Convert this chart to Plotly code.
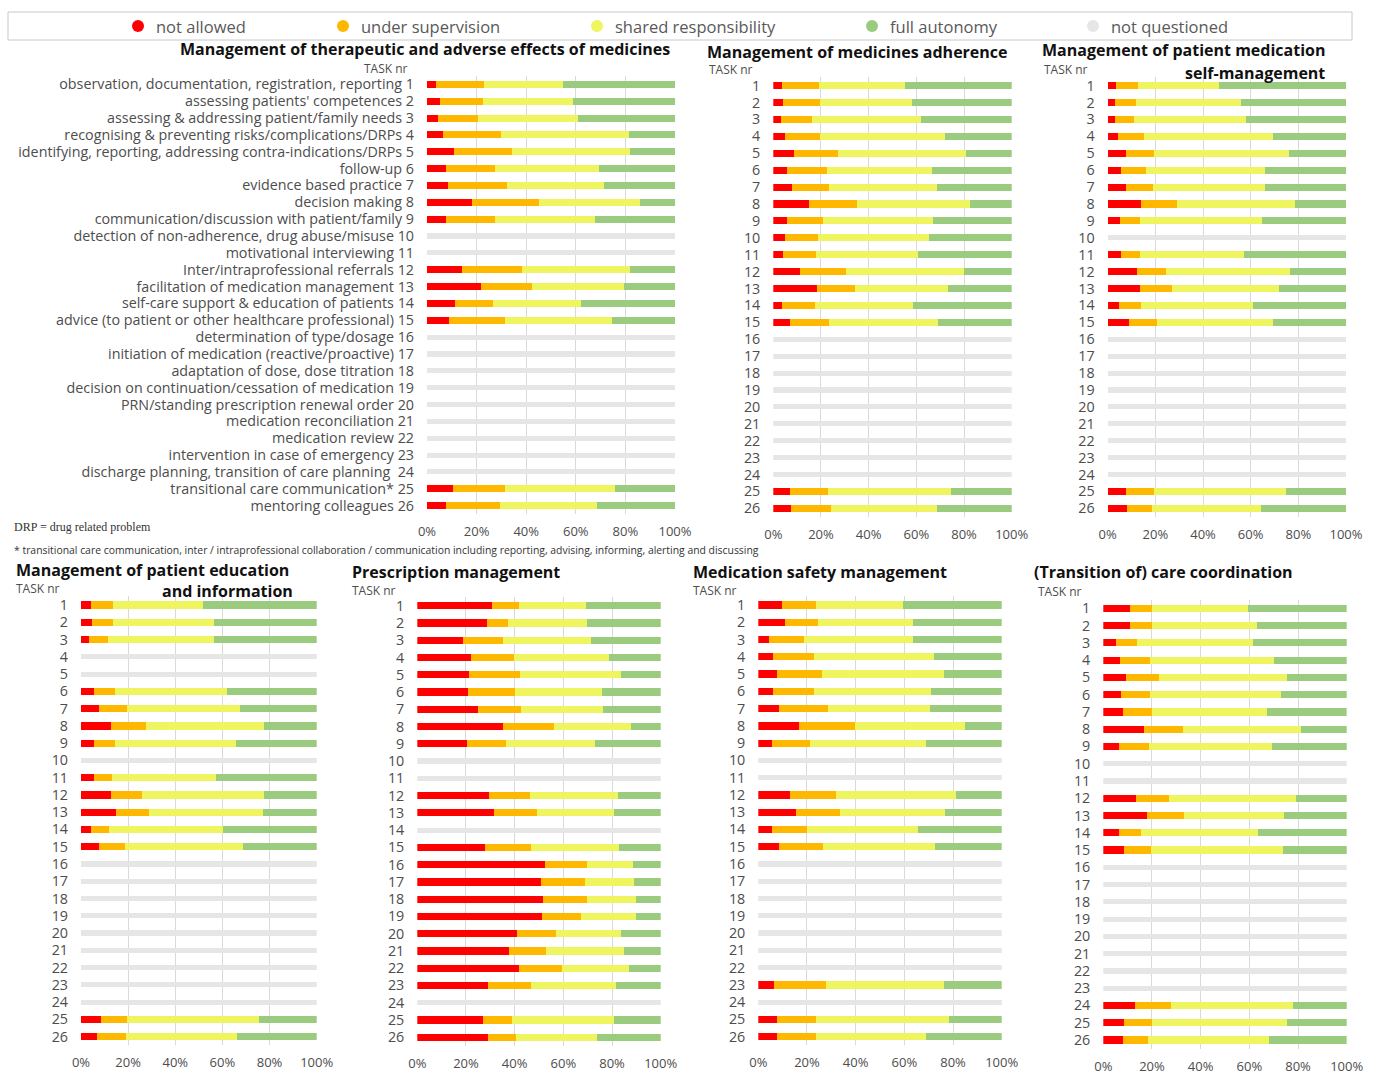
import plotly.graph_objects as go

W, H = 1378, 1074
N = None

# ---------------- data (percent of respondents) ----------------
task_nr = list(range(1, 27))
task_names = [
    "observation, documentation, registration, reporting",
    "assessing patients' competences",
    "assessing & addressing patient/family needs",
    "recognising & preventing risks/complications/DRPs",
    "identifying, reporting, addressing contra-indications/DRPs",
    "follow-up",
    "evidence based practice",
    "decision making",
    "communication/discussion with patient/family",
    "detection of non-adherence, drug abuse/misuse",
    "motivational interviewing",
    "Inter/intraprofessional referrals",
    "facilitation of medication management",
    "self-care support & education of patients",
    "advice (to patient or other healthcare professional)",
    "determination of type/dosage",
    "initiation of medication (reactive/proactive)",
    "adaptation of dose, dose titration",
    "decision on continuation/cessation of medication",
    "PRN/standing prescription renewal order",
    "medication reconciliation",
    "medication review",
    "intervention in case of emergency",
    "discharge planning, transition of care planning ",
    "transitional care communication*",
    "mentoring colleagues",
]
x_ticks = [0, 20, 40, 60, 80, 100]
x_tick_labels = ["0%", "20%", "40%", "60%", "80%", "100%"]
categories = ["not allowed", "under supervision", "shared responsibility", "full autonomy", "not questioned"]

# 1. Management of therapeutic and adverse effects of medicines
therapeutic_not_allowed = [3.6, 5.4, 4.5, 6.3, 10.8, 7.6, 8.6, 18.0, 7.7, N, N, 14.0, 21.6, 11.2, 9.0, N, N, N, N, N, N, N, N, N, 10.3, 7.7]
therapeutic_supervision = [19.3, 17.1, 16.2, 23.4, 23.4, 19.8, 23.8, 27.0, 19.7, N, N, 24.2, 20.7, 15.5, 22.5, N, N, N, N, N, N, N, N, N, 21.2, 21.7]
therapeutic_shared = [32.1, 36.5, 40.3, 51.9, 47.8, 42.0, 38.8, 41.0, 40.2, N, N, 43.8, 37.0, 35.5, 42.9, N, N, N, N, N, N, N, N, N, 44.2, 39.1]
therapeutic_autonomy = [45.0, 41.0, 39.0, 18.4, 18.0, 30.6, 28.8, 14.0, 32.4, N, N, 18.0, 20.7, 37.8, 25.6, N, N, N, N, N, N, N, N, N, 24.3, 31.5]

# 2. Management of medicines adherence
adherence_not_allowed = [3.8, 4.2, 3.1, 4.8, 8.7, 5.6, 7.7, 15.0, 5.6, 4.8, 4.2, 11.2, 18.5, 3.8, 7.0, N, N, N, N, N, N, N, N, N, 7.0, 7.4]
adherence_supervision = [15.5, 15.4, 13.0, 14.8, 18.3, 16.8, 15.8, 20.0, 15.4, 14.1, 13.7, 19.1, 15.8, 13.7, 16.5, N, N, N, N, N, N, N, N, N, 15.8, 16.6]
adherence_shared = [35.9, 38.7, 45.7, 52.4, 54.0, 44.3, 45.3, 47.5, 46.1, 46.6, 42.7, 49.7, 39.1, 41.2, 45.7, N, N, N, N, N, N, N, N, N, 51.6, 44.8]
adherence_autonomy = [44.8, 41.7, 38.2, 28.0, 19.0, 33.3, 31.2, 17.5, 32.9, 34.5, 39.4, 20.0, 26.6, 41.3, 30.8, N, N, N, N, N, N, N, N, N, 25.6, 31.2]

# 3. Management of patient medication self-management
selfmgmt_not_allowed = [3.5, 3.1, 3.1, 4.2, 7.6, 5.6, 7.6, 14.0, 5.2, N, 5.6, 12.2, 13.6, 4.8, 9.1, N, N, N, N, N, N, N, N, N, 7.6, 8.0]
selfmgmt_supervision = [9.1, 8.6, 7.9, 11.0, 12.0, 10.6, 11.6, 15.0, 8.4, N, 8.0, 12.3, 13.3, 9.0, 11.5, N, N, N, N, N, N, N, N, N, 11.8, 10.5]
selfmgmt_shared = [34.1, 44.1, 47.0, 54.3, 56.5, 49.8, 46.8, 49.6, 51.0, N, 43.7, 52.0, 45.1, 47.0, 48.9, N, N, N, N, N, N, N, N, N, 55.3, 45.7]
selfmgmt_autonomy = [53.3, 44.2, 42.0, 30.5, 23.9, 34.0, 34.0, 21.4, 35.4, N, 42.7, 23.5, 28.0, 39.2, 30.5, N, N, N, N, N, N, N, N, N, 25.3, 35.8]

# 4. Management of patient education and information
education_not_allowed = [4.2, 4.8, 3.5, N, N, 5.7, 7.6, 12.6, 5.7, N, 5.7, 12.7, 14.9, 4.2, 7.8, N, N, N, N, N, N, N, N, N, 8.5, 6.9]
education_supervision = [9.5, 8.9, 7.8, N, N, 8.9, 11.9, 14.8, 8.6, N, 7.6, 13.3, 14.0, 7.7, 10.9, N, N, N, N, N, N, N, N, N, 10.9, 12.2]
education_shared = [38.2, 42.7, 45.1, N, N, 47.5, 48.0, 50.3, 51.3, N, 43.8, 51.8, 48.2, 48.2, 50.2, N, N, N, N, N, N, N, N, N, 56.1, 47.0]
education_autonomy = [48.1, 43.6, 43.6, N, N, 37.9, 32.5, 22.3, 34.4, N, 42.9, 22.2, 22.9, 39.9, 31.1, N, N, N, N, N, N, N, N, N, 24.5, 33.9]

# 5. Prescription management
prescription_not_allowed = [30.8, 28.5, 18.9, 21.9, 21.4, 20.7, 25.1, 35.3, 20.3, N, N, 29.6, 31.6, N, 27.8, 52.5, 50.8, 51.5, 51.1, 40.8, 37.7, 41.9, 28.9, N, 26.8, 28.9]
prescription_supervision = [11.1, 8.9, 16.4, 18.0, 20.8, 19.4, 17.5, 20.9, 16.0, N, N, 16.7, 17.4, N, 18.9, 17.1, 18.1, 18.4, 16.0, 16.2, 15.2, 17.7, 17.8, N, 12.0, 11.5]
prescription_shared = [27.4, 32.2, 35.9, 38.9, 41.5, 35.7, 33.6, 31.6, 36.7, N, N, 36.0, 32.0, N, 36.3, 19.2, 20.3, 20.0, 22.8, 26.7, 32.0, 27.5, 34.8, N, 42.0, 33.6]
prescription_autonomy = [30.7, 30.4, 28.8, 21.2, 16.3, 24.2, 23.8, 12.2, 27.0, N, N, 17.7, 19.0, N, 17.0, 11.2, 10.8, 10.1, 10.1, 16.3, 15.1, 12.9, 18.5, N, 19.2, 26.0]

# 6. Medication safety management
safety_not_allowed = [9.9, 11.0, 4.5, 6.2, 7.8, 6.2, 8.5, 16.7, 5.5, N, N, 13.0, 15.3, 5.5, 8.5, N, N, N, N, N, N, N, 6.4, N, 7.5, 7.5]
safety_supervision = [13.7, 13.7, 14.4, 16.7, 18.5, 16.8, 20.3, 23.0, 15.7, N, N, 18.9, 18.3, 14.4, 18.2, N, N, N, N, N, N, N, 21.4, N, 16.2, 16.2]
safety_shared = [36.0, 38.7, 44.5, 49.3, 50.1, 48.0, 41.7, 45.2, 47.7, N, N, 49.3, 43.1, 45.6, 45.9, N, N, N, N, N, N, N, 48.5, N, 54.8, 45.2]
safety_autonomy = [40.4, 36.6, 36.6, 27.8, 23.6, 29.0, 29.5, 15.1, 31.1, N, N, 18.8, 23.3, 34.5, 27.4, N, N, N, N, N, N, N, 23.7, N, 21.5, 31.1]

# 7. (Transition of) care coordination
coordination_not_allowed = [11.0, 11.0, 5.1, 6.8, 9.2, 7.3, 8.2, 16.8, 6.4, N, N, 13.4, 17.8, 6.4, 8.6, N, N, N, N, N, N, N, N, 13.0, 8.6, 8.2]
coordination_supervision = [9.0, 9.0, 8.9, 12.4, 13.8, 11.9, 11.8, 16.1, 12.4, N, N, 13.7, 15.5, 9.1, 11.0, N, N, N, N, N, N, N, N, 14.8, 11.4, 10.3]
coordination_shared = [39.6, 43.3, 47.4, 51.1, 52.3, 53.7, 47.1, 48.2, 50.4, N, N, 52.1, 40.9, 47.9, 54.1, N, N, N, N, N, N, N, N, 50.3, 55.6, 49.7]
coordination_autonomy = [40.4, 36.7, 38.6, 29.7, 24.7, 27.1, 32.9, 18.9, 30.8, N, N, 20.8, 25.8, 36.6, 26.3, N, N, N, N, N, N, N, N, 21.9, 24.4, 31.8]

# ---------------- styling / layout ----------------
colors = ["#ff0000", "#ffb800", "#eef55e", "#9bcb7f", "#e6e6e6"]
FONT = "Open Sans"
GREY_TXT = "#4d4d4d"

panels = [
    dict(data=[therapeutic_not_allowed, therapeutic_supervision, therapeutic_shared, therapeutic_autonomy],
         box=(427, 675, 75.9, 514.1), long=True),
    dict(data=[adherence_not_allowed, adherence_supervision, adherence_shared, adherence_autonomy],
         box=(773.3, 1011.7, 77.2, 516.8), long=False),
    dict(data=[selfmgmt_not_allowed, selfmgmt_supervision, selfmgmt_shared, selfmgmt_autonomy],
         box=(1107.7, 1346, 77.2, 516.8), long=False),
    dict(data=[education_not_allowed, education_supervision, education_shared, education_autonomy],
         box=(81, 316.7, 596.4, 1045.3), long=False),
    dict(data=[prescription_not_allowed, prescription_supervision, prescription_shared, prescription_autonomy],
         box=(417.3, 660.7, 597.1, 1045.9), long=False),
    dict(data=[safety_not_allowed, safety_supervision, safety_shared, safety_autonomy],
         box=(758.3, 1001.7, 596.4, 1045.3), long=False),
    dict(data=[coordination_not_allowed, coordination_supervision, coordination_shared, coordination_autonomy],
         box=(1103.3, 1346.7, 599.7, 1048.6), long=False),
]


def px_x(v):
    return v / W


def px_y(v):
    return 1 - v / H


fig = go.Figure()
layout = dict(
    width=W, height=H, margin=dict(l=0, r=0, t=0, b=0, pad=0), autosize=False,
    paper_bgcolor="white", plot_bgcolor="white",
    barmode="stack", showlegend=False,
    font=dict(family=FONT, color=GREY_TXT),
)

for i, p in enumerate(panels):
    k = "" if i == 0 else str(i + 1)
    xa, ya = "x" + k, "y" + k
    series = p["data"]
    not_q = [100 if v is None else None for v in series[0]]
    for j, vals in enumerate(series + [not_q]):
        fig.add_trace(go.Bar(
            x=vals, y=task_nr, orientation="h", xaxis=xa, yaxis=ya,
            marker=dict(color=colors[j], line=dict(width=0)),
            width=0.30 if j == 4 else 0.42,
            name=categories[j], showlegend=False, hoverinfo="x+y+name",
        ))
    x0, x1, yt, yb = p["box"]
    if p["long"]:
        ticktext = [f"{n} {t}" for n, t in zip(task_names, task_nr)]
    else:
        ticktext = [str(t) for t in task_nr]
    layout["xaxis" + k] = dict(
        domain=[px_x(x0), px_x(x1)], anchor=ya, range=[0, 100], automargin=False,
        tickvals=x_ticks, ticktext=x_tick_labels, showgrid=True, gridcolor="#d9d9d9",
        gridwidth=1, zeroline=False, showline=False, ticks="",
        tickfont=dict(size=13, color=GREY_TXT, family=FONT), ticklabelstandoff=8, fixedrange=True,
    )
    layout["yaxis" + k] = dict(
        domain=[px_y(yb), px_y(yt)], anchor=xa, range=[26.5, 0.5], automargin=False,
        tickvals=task_nr, ticktext=ticktext, showgrid=False, zeroline=False,
        showline=False, ticks="", ticklabelstandoff=12,
        tickfont=dict(size=14.3, color=GREY_TXT, family=FONT), fixedrange=True,
    )

# legend box drawn as in the original (circle symbols + labels)
legend_marker_x = [138, 343, 597, 872, 1093]
shapes = [dict(type="rect", xref="paper", yref="paper",
               x0=px_x(8), x1=px_x(1352), y0=px_y(40), y1=px_y(12),
               line=dict(color="#c8c8c8", width=1), fillcolor="rgba(0,0,0,0)")]
anns = []
for cx, c, name in zip(legend_marker_x, colors, categories):
    shapes.append(dict(type="circle", xref="paper", yref="paper",
                       x0=px_x(cx - 6), x1=px_x(cx + 6), y0=px_y(32), y1=px_y(20),
                       line=dict(width=0), fillcolor=c))
    anns.append(dict(text=name, x=px_x(cx + 16), y=px_y(26), xref="paper", yref="paper",
                     xanchor="left", yanchor="middle", showarrow=False,
                     font=dict(size=16.5, color="#595959", family=FONT)))
layout["shapes"] = shapes


def title(text, x, y, anchor="center", size=16):
    anns.append(dict(text=f"<b>{text}</b>", x=px_x(x), y=px_y(y), xref="paper", yref="paper",
                     xanchor=anchor, yanchor="middle", showarrow=False,
                     font=dict(size=size, color="#111111", family=FONT)))


def small(text, x, y, anchor="left", size=12, color=GREY_TXT, family=FONT):
    anns.append(dict(text=text, x=px_x(x), y=px_y(y), xref="paper", yref="paper",
                     xanchor=anchor, yanchor="middle", showarrow=False,
                     font=dict(size=size, color=color, family=family)))


title("Management of therapeutic and adverse effects of medicines", 672, 49, "right")
small("TASK nr", 410, 68, "right")
title("Management of medicines adherence", 1010, 52, "right")
small("TASK nr", 707, 70)
title("Management of patient medication", 1040, 50, "left")
title("self-management", 1327, 73, "right")
small("TASK nr", 1042, 69)
title("Management of patient education", 14, 570, "left")
title("and information", 295, 591, "right")
small("TASK nr", 14, 588)
title("Prescription management", 350, 572, "left")
small("TASK nr", 350, 590)
title("Medication safety management", 691, 572, "left")
small("TASK nr", 691, 590)
title("(Transition of) care coordination", 1032, 572, "left")
small("TASK nr", 1036, 591)
small("DRP = drug related problem", 12, 527, size=12, color="#333333", family="Liberation Serif")
small("* transitional care communication, inter / intraprofessional collaboration / communication "
      "including reporting, advising, informing, alerting and discussing", 12, 550, size=10.4, color="#333333")

layout["annotations"] = anns
fig.update_layout(**layout)
fig.write_html("out.html", config={"displayModeBar": False},
               post_script="document.body.style.margin='0';document.body.style.overflow='hidden';")
